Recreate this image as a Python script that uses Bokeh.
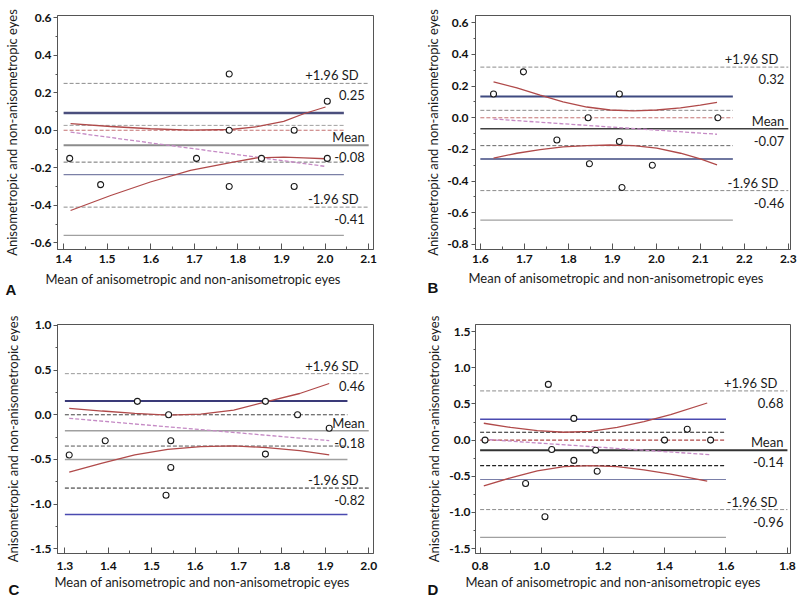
from bokeh.plotting import figure
from bokeh.layouts import gridplot
from bokeh.models import FixedTicker, ColumnDataSource, Range1d, Title
from bokeh.core.properties import value
from bokeh.embed import file_html
from bokeh.resources import INLINE

FONT = "Lato"
XLABEL = "Mean of anisometropic and non-anisometropic eyes"
YLABEL = "Anisometropic and non-anisometropic eyes"
SD_TEXT = ["+1.96 SD", "Mean", "-1.96 SD"]

# ---------------- Panel A ----------------
A_xticks = [1.4, 1.5, 1.6, 1.7, 1.8, 1.9, 2.0, 2.1]
A_xtick_labels = ["1.4", "1.5", "1.6", "1.7", "1.8", "1.9", "2.0", "2.1"]
A_yticks = [-0.6, -0.4, -0.2, 0.0, 0.2, 0.4, 0.6]
A_ytick_labels = ["-0.6", "-0.4", "-0.2", "0.0", "0.2", "0.4", "0.6"]
A_mean = [1.414, 1.485, 1.705, 1.780, 1.780, 1.780, 1.854, 1.929, 1.929, 2.005, 2.005]
A_diff = [-0.15, -0.29, -0.15, 0.30, 0.00, -0.30, -0.15, 0.00, -0.30, 0.155, -0.15]
A_band_x = [1.416, 1.508, 1.599, 1.691, 1.783, 1.844, 1.905, 1.951, 2.001]
A_band_hi = [0.035, 0.020, 0.008, 0.001, 0.004, 0.019, 0.047, 0.088, 0.124]
A_band_lo = [-0.428, -0.348, -0.276, -0.214, -0.173, -0.147, -0.143, -0.147, -0.152]
A_reg_x = [1.416, 2.001]
A_reg_y = [-0.010, -0.193]
A_limits = [0.25, -0.08, -0.41]
A_limit_labels = ["0.25", "-0.08", "-0.41"]
A_ci = [0.092, 0.026, 0.000, -0.170, -0.237, -0.561]
A_ci_end = 2.043

# ---------------- Panel B ----------------
B_xticks = [1.6, 1.7, 1.8, 1.9, 2.0, 2.1, 2.2, 2.3]
B_xtick_labels = ["1.6", "1.7", "1.8", "1.9", "2.0", "2.1", "2.2", "2.3"]
B_yticks = [-0.8, -0.6, -0.4, -0.2, 0.0, 0.2, 0.4, 0.6]
B_ytick_labels = ["-0.8", "-0.6", "-0.4", "-0.2", "0.0", "0.2", "0.4", "0.6"]
B_mean = [1.630, 1.698, 1.774, 1.845, 1.848, 1.916, 1.916, 1.922, 1.991, 2.140]
B_diff = [0.15, 0.29, -0.14, 0.00, -0.29, 0.15, -0.15, -0.44, -0.30, 0.00]
B_band_x = [1.630, 1.683, 1.736, 1.788, 1.842, 1.895, 1.948, 2.001, 2.055, 2.100, 2.138]
B_band_hi = [0.227, 0.189, 0.143, 0.101, 0.068, 0.049, 0.044, 0.049, 0.063, 0.080, 0.097]
B_band_lo = [-0.255, -0.224, -0.201, -0.184, -0.176, -0.172, -0.176, -0.192, -0.224, -0.260, -0.297]
B_reg_x = [1.630, 2.138]
B_reg_y = [-0.008, -0.104]
B_limits = [0.32, -0.07, -0.46]
B_limit_labels = ["0.32", "-0.07", "-0.46"]
B_ci = [0.135, 0.047, 0.000, -0.176, -0.260, -0.647]
B_ci_end = 2.174

# ---------------- Panel C ----------------
C_xticks = [1.3, 1.4, 1.5, 1.6, 1.7, 1.8, 1.9, 2.0]
C_xtick_labels = ["1.3", "1.4", "1.5", "1.6", "1.7", "1.8", "1.9", "2.0"]
C_yticks = [-1.5, -1.0, -0.5, 0.0, 0.5, 1.0]
C_ytick_labels = ["-1.5", "-1.0", "-0.5", "0.0", "0.5", "1.0"]
C_mean = [1.310, 1.393, 1.467, 1.539, 1.544, 1.544, 1.533, 1.762, 1.762, 1.836, 1.909]
C_diff = [-0.45, -0.29, 0.15, 0.00, -0.29, -0.59, -0.90, 0.15, -0.44, 0.00, -0.15]
C_band_x = [1.310, 1.386, 1.461, 1.537, 1.613, 1.689, 1.765, 1.841, 1.909]
C_band_hi = [0.071, 0.042, 0.016, -0.003, 0.008, 0.053, 0.146, 0.238, 0.350]
C_band_lo = [-0.642, -0.542, -0.449, -0.386, -0.356, -0.349, -0.367, -0.401, -0.449]
C_reg_x = [1.310, 1.909]
C_reg_y = [-0.040, -0.289]
C_limits = [0.46, -0.18, -0.82]
C_limit_labels = ["0.46", "-0.18", "-0.82"]
C_ci = [0.153, 0.000, -0.350, -0.500, -1.117]
C_ci_end = 1.951

# ---------------- Panel D ----------------
D_xticks = [0.8, 1.0, 1.2, 1.4, 1.6, 1.8]
D_xtick_labels = ["0.8", "1.0", "1.2", "1.4", "1.6", "1.8"]
D_yticks = [-1.5, -1.0, -0.5, 0.0, 0.5, 1.0, 1.5]
D_ytick_labels = ["-1.5", "-1.0", "-0.5", "0.0", "0.5", "1.0", "1.5"]
D_mean = [0.816, 0.948, 1.011, 1.022, 1.033, 1.105, 1.105, 1.176, 1.181, 1.400, 1.474, 1.550]
D_diff = [0.00, -0.60, -1.06, 0.77, -0.13, 0.30, -0.28, -0.14, -0.43, 0.00, 0.15, 0.00]
D_band_x = [0.812, 0.899, 0.986, 1.073, 1.159, 1.246, 1.333, 1.420, 1.539]
D_band_hi = [0.233, 0.176, 0.131, 0.109, 0.122, 0.176, 0.256, 0.353, 0.513]
D_band_lo = [-0.633, -0.522, -0.424, -0.367, -0.353, -0.367, -0.411, -0.469, -0.567]
D_reg_x = [0.812, 1.550]
D_reg_y = [0.011, -0.202]
D_limits = [0.68, -0.14, -0.96]
D_limit_labels = ["0.68", "-0.14", "-0.96"]
D_ci = [0.290, 0.109, 0.000, -0.353, -0.544, -1.344]
D_ci_end = 1.600

# ---------------- styles / geometry ----------------
DASH = "4 2"
GRAY = "#8c8c8c"
NAVY = "#4b4f7d"
RED0 = "#c47272"

PANELS = [
    dict(letter="A", size=(400, 300), borders=(57, 27, 15, 51),
         xr=(1.386, 2.111), yr=(-0.636, 0.612), ylab_standoff=7, ytick_standoff=2, xtick_standoff=5,
         xt=A_xticks, xtl=A_xtick_labels, yt=A_yticks, ytl=A_ytick_labels,
         mx=A_mean, dy=A_diff, bx=A_band_x, bhi=A_band_hi, blo=A_band_lo,
         rx=A_reg_x, ry=A_reg_y, lim=A_limits, liml=A_limit_labels, ci=A_ci, ci_end=A_ci_end,
         ci_style=[(NAVY, 2.5, "solid"), ("#a0a0a0", 1, DASH), (RED0, 1, DASH),
                   ("#707070", 1, DASH), ("#7b80a6", 1.2, "solid"), ("#a0a0a0", 1.2, "solid")],
         mean_style=(GRAY, 2, "solid"), up_style=(GRAY, 1, DASH), lo_style=(GRAY, 1, DASH),
         xlab_offset=-12, xlab_standoff=6, letter_offset=-52),
    dict(letter="B", size=(400, 300), borders=(75, 10, 13, 51),
         xr=(1.589, 2.305), yr=(-0.832, 0.646), ylab_standoff=3, ytick_standoff=3, xtick_standoff=5,
         xt=B_xticks, xtl=B_xtick_labels, yt=B_yticks, ytl=B_ytick_labels,
         mx=B_mean, dy=B_diff, bx=B_band_x, bhi=B_band_hi, blo=B_band_lo,
         rx=B_reg_x, ry=B_reg_y, lim=B_limits, liml=B_limit_labels, ci=B_ci, ci_end=B_ci_end,
         ci_style=[("#3f4a80", 2, "solid"), (GRAY, 1, DASH), (RED0, 1, DASH),
                   ("#666666", 1, DASH), ("#3f4a80", 1.5, "solid"), ("#a0a0a0", 1.2, "solid")],
         mean_style=("#404040", 1.5, "solid"), up_style=(GRAY, 1, DASH), lo_style=(GRAY, 1, DASH),
         xlab_offset=-7, xlab_standoff=4, letter_offset=-48),
    dict(letter="C", size=(400, 300), borders=(56, 26, 24, 47),
         xr=(1.283, 2.011), yr=(-1.552, 1.01), ylab_standoff=6, ytick_standoff=2, xtick_standoff=8,
         xt=C_xticks, xtl=C_xtick_labels, yt=C_yticks, ytl=C_ytick_labels,
         mx=C_mean, dy=C_diff, bx=C_band_x, bhi=C_band_hi, blo=C_band_lo,
         rx=C_reg_x, ry=C_reg_y, lim=C_limits, liml=C_limit_labels, ci=C_ci, ci_end=C_ci_end,
         ci_style=[("#3a3a78", 2, "solid"), ("#444444", 1, DASH), ("#555555", 1, DASH),
                   ("#a0a0a0", 1.5, "solid"), ("#4a4ab0", 1.5, "solid")],
         mean_style=("#a0a0a0", 1.5, "solid"), up_style=("#999999", 1, DASH), lo_style=("#222222", 1, DASH),
         xlab_offset=-3, xlab_standoff=-1, letter_offset=-49),
    dict(letter="D", size=(400, 300), borders=(75, 10, 16, 47),
         xr=(0.785, 1.81), yr=(-1.567, 1.598), ylab_standoff=4, ytick_standoff=1, xtick_standoff=8,
         xt=D_xticks, xtl=D_xtick_labels, yt=D_yticks, ytl=D_ytick_labels,
         mx=D_mean, dy=D_diff, bx=D_band_x, bhi=D_band_hi, blo=D_band_lo,
         rx=D_reg_x, ry=D_reg_y, lim=D_limits, liml=D_limit_labels, ci=D_ci, ci_end=D_ci_end,
         ci_style=[("#4a4ab0", 1.5, "solid"), ("#222222", 1.2, DASH), ("#b04848", 1.2, DASH),
                   ("#222222", 1.2, DASH), ("#7a7fa8", 1.2, "solid"), ("#a0a0a0", 1.2, "solid")],
         mean_style=("#333333", 2, "solid"), up_style=(GRAY, 1, DASH), lo_style=(GRAY, 1, DASH),
         xlab_offset=-10, xlab_standoff=-1, letter_offset=-48),
]


def make_panel(d):
    W, H = d["size"]
    bl, br, bt, bb = d["borders"]
    x0, x1 = d["xr"]
    y0, y1 = d["yr"]

    p = figure(width=W, height=H, x_range=Range1d(x0, x1), y_range=Range1d(y0, y1),
               output_backend="svg", toolbar_location=None,
               min_border_left=bl, min_border_right=br, min_border_top=bt, min_border_bottom=bb,
               background_fill_color="white", border_fill_color="white",
               outline_line_color="#555555", outline_line_width=1)
    p.xgrid.visible = False
    p.ygrid.visible = False

    xt, yt = d["xt"], d["yt"]
    xminor = [(a + b) / 2 for a, b in zip(xt[:-1], xt[1:])]
    yminor = [(a + b) / 2 for a, b in zip(yt[:-1], yt[1:])]
    p.xaxis.ticker = FixedTicker(ticks=xt, minor_ticks=xminor)
    p.yaxis.ticker = FixedTicker(ticks=yt, minor_ticks=yminor)
    p.xaxis.major_label_overrides = {t: l for t, l in zip(xt, d["xtl"])}
    p.yaxis.major_label_overrides = {t: l for t, l in zip(yt, d["ytl"])}

    for ax in (p.xaxis[0], p.yaxis[0]):
        ax.axis_line_color = "#555555"
        ax.major_tick_line_color = "#555555"
        ax.minor_tick_line_color = "#555555"
        ax.major_label_text_font = FONT
        ax.major_label_text_font_size = "12px"
        ax.major_label_text_font_style = "bold"
        ax.major_label_text_color = "#111111"
        ax.axis_label_text_font = FONT
        ax.axis_label_text_font_size = "13px"
        ax.axis_label_text_font_style = "normal"
        ax.axis_label_text_color = "#1a1a1a"
    p.xaxis.major_tick_in = 6
    p.xaxis.major_tick_out = 0
    p.xaxis.minor_tick_in = 3
    p.xaxis.minor_tick_out = 0
    p.xaxis.major_label_standoff = d["xtick_standoff"]
    p.yaxis.major_tick_in = 0
    p.yaxis.major_tick_out = 4
    p.yaxis.minor_tick_in = 0
    p.yaxis.minor_tick_out = 2
    p.yaxis.major_label_standoff = d["ytick_standoff"]
    p.yaxis.axis_label = YLABEL
    p.yaxis.axis_label_standoff = d["ylab_standoff"]

    xs, xe = xt[0], xt[-1]
    # confidence-interval / reference lines
    for lvl, (c, w, dash) in zip(d["ci"], d["ci_style"]):
        p.segment(x0=[xs], y0=[lvl], x1=[d["ci_end"]], y1=[lvl], line_color=c, line_width=w, line_dash=dash)
    # limits of agreement and mean
    for lvl, (c, w, dash) in zip(d["lim"], [d["up_style"], d["mean_style"], d["lo_style"]]):
        p.segment(x0=[xs], y0=[lvl], x1=[xe], y1=[lvl], line_color=c, line_width=w, line_dash=dash)

    # regression line and its confidence band
    p.line(d["rx"], d["ry"], line_color="#c58ac5", line_width=1.3, line_dash=DASH)
    p.line(d["bx"], d["bhi"], line_color="#b04a4a", line_width=1.3)
    p.line(d["bx"], d["blo"], line_color="#b04a4a", line_width=1.3)

    # observations
    p.scatter(d["mx"], d["dy"], marker="circle", size=6, fill_color="white",
              line_color="#1a1a1a", line_width=1.1)

    # limit labels
    lim = d["lim"]
    src = ColumnDataSource(dict(
        x=[xe] * 6,
        y=[lim[0], lim[0], lim[1], lim[1], lim[2], lim[2]],
        text=[SD_TEXT[0], d["liml"][0], SD_TEXT[1], d["liml"][1], SD_TEXT[2], d["liml"][2]],
        xo=[-10, -4, -4, -4, -10, -4],
        yo=[-8, 12, -8, 12, -8, 12],
    ))
    p.text(x="x", y="y", text="text", x_offset="xo", y_offset="yo", source=src,
           text_align="right", text_baseline="middle", text_font=value(FONT),
           text_font_size="13px", text_color="#1a1a1a")

    # x axis title (as a side-panel title so it can sit left of centre)
    p.add_layout(Title(text=XLABEL, align="left", vertical_align="bottom",
                       offset=d["xlab_offset"], standoff=d["xlab_standoff"],
                       text_font=FONT, text_font_size="13px", text_font_style="normal",
                       text_color="#1a1a1a"), "below")
    # panel letter, zero-height panel so it shares the row of the axis title
    p.add_layout(Title(text=d["letter"], align="left", vertical_align="middle",
                       offset=d["letter_offset"], standoff=-19,
                       text_font="Liberation Sans", text_font_size="15px", text_font_style="bold",
                       text_color="#111111"), "below")
    return p


figs = [make_panel(d) for d in PANELS]
grid = gridplot([[figs[0], figs[1]], [figs[2], figs[3]]], toolbar_location=None)

open("out.html", "w").write(file_html(grid, INLINE))
